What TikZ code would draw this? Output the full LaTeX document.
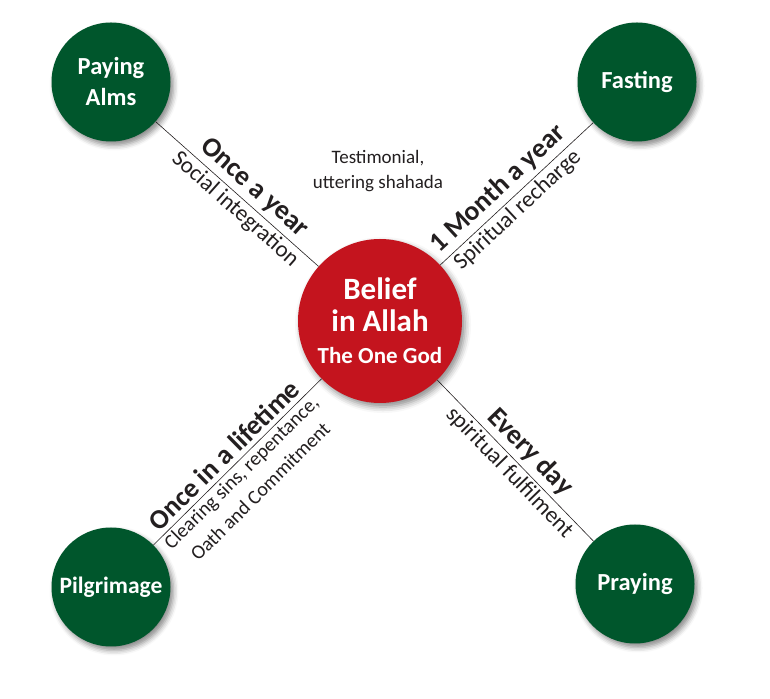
\documentclass[tikz,border=0pt]{standalone}
\usepackage{fontspec}
\setmainfont{Carlito}
\usetikzlibrary{shadows.blur}
\definecolor{beliefred}{RGB}{196,20,30}
\definecolor{pillargreen}{RGB}{0,86,44}
\definecolor{ink}{RGB}{35,31,32}

\begin{document}
\begin{tikzpicture}[x=1pt, y=1pt,
  pillar/.style={circle, fill=pillargreen, text=white, minimum size=119pt, inner sep=0pt, align=center,
    font=\fontsize{24.5}{31}\selectfont\bfseries,
    blur shadow={shadow xshift=3pt, shadow yshift=-4pt, shadow blur radius=5pt, shadow opacity=45}},
  core/.style={circle, fill=beliefred, text=white, minimum size=164pt, inner sep=0pt, align=center,
    font=\fontsize{31}{32}\selectfont\bfseries,
    blur shadow={shadow xshift=3pt, shadow yshift=-4pt, shadow blur radius=6pt, shadow opacity=45}},
  often/.style={sloped, above, inner sep=4.5pt, text=ink, font=\fontsize{27.5}{33}\selectfont\bfseries},
  why/.style={sloped, below, inner sep=2.5pt, text=ink, align=center, font=\fontsize{23}{27}\selectfont},
  link/.style={ink, line width=0.6pt}]

\useasboundingbox (0,0) rectangle (770,698);

\node[core] (belief) at (380,377) {Belief\\in Allah\\{\fontsize{23}{28}\selectfont The One God}};

\node[pillar] (alms) at (111,616) {Paying\\Alms};
\node[pillar] (fasting) at (637,616) {Fasting};
\node[pillar, font=\fontsize{23.5}{29}\selectfont\bfseries] (pilgrimage) at (111,111) {Pilgrimage};
\node[pillar] (praying) at (635,114) {Praying};

\node[text=ink, align=center, font=\fontsize{19}{25}\selectfont] (shahada) at (378,527) {Testimonial,\\uttering shahada};

\draw[link] (belief) -- (alms) node[often, pos=0.46] (yearly) {Once a year} node[why, pos=0.46] (social) {Social integration};
\draw[link] (belief) -- (fasting) node[often, pos=0.45] (monthly) {1 Month a year} node[why, pos=0.45] (recharge) {Spiritual recharge};
\draw[link] (belief) -- (pilgrimage) node[often, pos=0.52] (lifetime) {Once in a lifetime} node[why, pos=0.52, font=\fontsize{20}{27}\selectfont] (clearing) {Clearing sins, repentance,\\Oath and Commitment};
\draw[link] (belief) -- (praying) node[often, pos=0.52] (daily) {Every day} node[why, pos=0.52] (fulfil) {spiritual fulfilment};
\end{tikzpicture}
\end{document}
